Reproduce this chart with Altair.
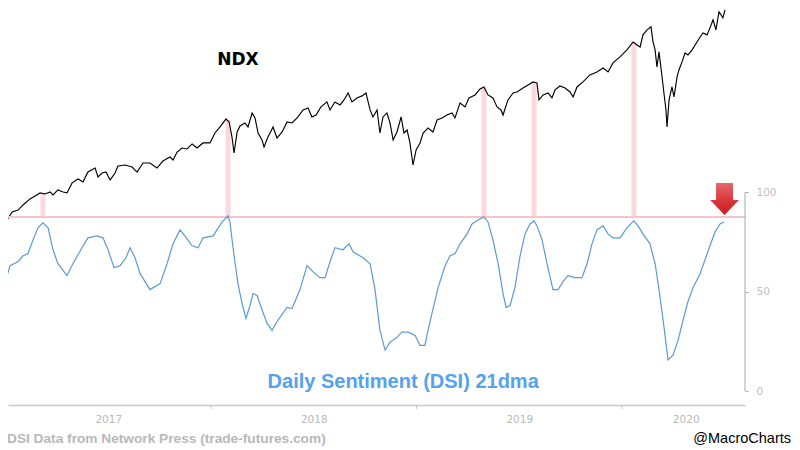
import altair as alt
import pandas as pd

# ---------------- data (time in fractional years) ----------------
ndx_t = [2017.007, 2017.032, 2017.061, 2017.085, 2017.119, 2017.144, 2017.168, 2017.192, 2017.217, 2017.231,
         2017.255, 2017.280, 2017.299, 2017.324, 2017.353, 2017.377, 2017.401, 2017.436, 2017.450, 2017.470,
         2017.489, 2017.509, 2017.533, 2017.547, 2017.582, 2017.616, 2017.640, 2017.669, 2017.703, 2017.737,
         2017.766, 2017.800, 2017.815, 2017.835, 2017.859, 2017.883, 2017.908, 2017.932, 2017.961, 2017.995,
         2018.019, 2018.044, 2018.073, 2018.088, 2018.102, 2018.112, 2018.127, 2018.141, 2018.165, 2018.180,
         2018.200, 2018.214, 2018.229, 2018.248, 2018.258, 2018.277, 2018.302, 2018.321, 2018.346, 2018.370,
         2018.394, 2018.419, 2018.448, 2018.472, 2018.491, 2018.511, 2018.535, 2018.564, 2018.579, 2018.603,
         2018.628, 2018.647, 2018.667, 2018.686, 2018.710, 2018.735, 2018.754, 2018.774, 2018.788, 2018.808,
         2018.822, 2018.837, 2018.856, 2018.871, 2018.886, 2018.905, 2018.925, 2018.939, 2018.954, 2018.968,
         2018.983, 2018.998,
         2019.017, 2019.032, 2019.056, 2019.080, 2019.100, 2019.124, 2019.148, 2019.173, 2019.187, 2019.212,
         2019.236, 2019.255, 2019.285, 2019.309, 2019.328, 2019.348, 2019.372, 2019.392, 2019.411, 2019.421,
         2019.445, 2019.470, 2019.489, 2019.518, 2019.543, 2019.567, 2019.586, 2019.596, 2019.616, 2019.640,
         2019.659, 2019.674, 2019.698, 2019.723, 2019.747, 2019.762, 2019.781, 2019.810, 2019.844, 2019.878,
         2019.908, 2019.932, 2019.956, 2019.990,
         2020.024, 2020.054, 2020.073, 2020.088, 2020.102, 2020.122, 2020.141, 2020.151, 2020.161, 2020.170,
         2020.180, 2020.195, 2020.204, 2020.214, 2020.219, 2020.229, 2020.243, 2020.253, 2020.268, 2020.277,
         2020.292, 2020.307, 2020.321, 2020.341, 2020.365, 2020.380, 2020.394, 2020.414, 2020.428, 2020.443,
         2020.457, 2020.472, 2020.491, 2020.501]
ndx_v = [4935, 5084, 5122, 5220, 5339, 5399, 5460, 5439, 5480, 5419,
         5522, 5480, 5460, 5669, 5753, 5690, 5903, 5992, 5796, 5881,
         5903, 5732, 5881, 6037, 6060, 6015, 5903, 6105, 6105, 5992,
         6151, 6243, 6174, 6361, 6457, 6433, 6555, 6457, 6580, 6580,
         6829, 6985, 7196, 7116, 6727, 6337, 6855, 7011, 7090, 6985,
         7359, 7223, 6829, 6655, 6482, 6727, 6985, 6702, 6855, 7116,
         7090, 7223, 7443, 7499, 7250, 7304, 7527, 7669, 7443, 7669,
         7584, 7726, 7930, 7669, 7784, 7843, 7930, 7443, 7250, 7443,
         6829, 7250, 7359, 7090, 6655, 6855, 7250, 6829, 6906, 6580,
         6060, 6409,
         6580, 6829, 6959, 6855, 7170, 7223, 7304, 7359, 7223, 7640,
         7527, 7784, 7872, 8050, 8110, 7872, 7784, 7527, 7443, 7304,
         7726, 7930, 7960, 8080, 8171, 8263, 8232, 7726, 7872, 7930,
         7784, 8020, 8140, 8080, 7960, 7813, 8110, 8263, 8481, 8577,
         8706, 8577, 8872, 9072,
         9312, 9593, 9486, 9415, 9850, 10036, 10149, 9593, 9312, 8738,
         9243, 8418, 7930, 7443, 6985, 7726, 8110, 7813, 8418, 8641,
         8905, 9208, 9139, 9312, 9593, 9773, 9923, 9850, 10111, 10418,
         10036, 10738, 10496, 10816]

dsi_t = [2017.007, 2017.022, 2017.061, 2017.085, 2017.109, 2017.134, 2017.158, 2017.182, 2017.207, 2017.231,
         2017.255, 2017.299, 2017.328, 2017.372, 2017.401, 2017.445, 2017.474, 2017.499, 2017.528, 2017.557,
         2017.586, 2017.606, 2017.630, 2017.655, 2017.703, 2017.752, 2017.786, 2017.815, 2017.849, 2017.873,
         2017.908, 2017.937, 2017.961,
         2018.010, 2018.029, 2018.054, 2018.083, 2018.092, 2018.107, 2018.131, 2018.151, 2018.170, 2018.190,
         2018.204, 2018.224, 2018.248, 2018.273, 2018.297, 2018.326, 2018.370, 2018.394, 2018.433, 2018.467,
         2018.496, 2018.530, 2018.555, 2018.579, 2018.603, 2018.642, 2018.672, 2018.691, 2018.740, 2018.774,
         2018.798, 2018.822, 2018.847, 2018.871, 2018.905, 2018.929, 2018.959, 2018.993,
         2019.017, 2019.041, 2019.056, 2019.075, 2019.105, 2019.139, 2019.163, 2019.187, 2019.212, 2019.246,
         2019.270, 2019.299, 2019.328, 2019.348, 2019.372, 2019.397, 2019.421, 2019.436, 2019.455, 2019.479,
         2019.504, 2019.528, 2019.552, 2019.572, 2019.586, 2019.611, 2019.635, 2019.664, 2019.689, 2019.713,
         2019.737, 2019.771, 2019.805, 2019.830, 2019.854, 2019.878, 2019.908, 2019.932, 2019.956, 2019.990,
         2020.024, 2020.058, 2020.078, 2020.102, 2020.136, 2020.161, 2020.180, 2020.200, 2020.214, 2020.224,
         2020.248, 2020.273, 2020.297, 2020.321, 2020.346, 2020.380, 2020.404, 2020.428, 2020.453, 2020.477,
         2020.496]
dsi_v = [57.8, 63, 65, 68, 69, 76, 82, 84.5, 82, 71,
         64, 58, 64, 72, 77, 78, 77, 71, 62, 63,
         67, 72, 67, 59, 51, 54, 64, 74, 81, 78,
         73, 72, 77,
         78, 81, 85, 88, 85, 72, 54, 44, 36.5, 43,
         49, 48, 41, 34, 30.5, 35.7, 42, 41.5, 51, 63,
         60, 57, 57, 65, 72, 71, 74, 70, 67, 64,
         51, 30.5, 20.6, 24.6, 27, 29.6, 29.6, 28,
         23, 23, 30.5, 39, 52, 63, 68, 69, 74, 79,
         84, 86, 87.5, 85, 76, 64, 49, 42, 43, 52,
         68, 79, 84, 85.5, 83, 76, 64, 51, 51, 55,
         58, 57, 57, 64, 74, 81, 83, 79, 77, 77,
         82, 85.5, 83, 79, 74, 64, 51, 35.7, 24, 15.6,
         18, 25.6, 35.7, 45, 52, 59, 66, 73, 80, 84,
         85]

# sentiment peaks highlighted
band_t = [2017.182, 2018.083, 2019.328, 2019.572, 2020.058]
band_ndx = [5460, 7170, 8110, 8232, 9593]
threshold = 87.5

year_bounds = [2018, 2019, 2020]
year_label_pos = [2017.5, 2018.5, 2019.5, 2020.31]
dsi_ticks = [0, 50, 100]
dsi_axis_span = [0, 100]

arrow_t = [2020.499]
arrow_v = [96.5]

ndx_label = ["NDX"]
ndx_label_t = [2018.131]
ndx_label_v = [8969]
dsi_label = ["Daily Sentiment (DSI) 21dma"]
dsi_label_t = [2018.935]
dsi_label_v = [4.5]
source_text = "DSI Data from Network Press (trade-futures.com)"
handle_text = "@MacroCharts"

# ---------------- layout ----------------
W, H = 737, 397
PAD_R, PAD_B = 47, 45          # svg = 784 x 442
X_DOMAIN = [2017.012, 2020.5985]
NDX_DOMAIN = [2474, 10889]
DSI_DOMAIN = [-7.0, 192.5]
thr_px = H * (DSI_DOMAIN[1] - threshold) / (DSI_DOMAIN[1] - DSI_DOMAIN[0])

x_scale = alt.Scale(domain=X_DOMAIN, nice=False, zero=False)
x_axis = alt.Axis(values=year_label_pos, labelExpr="toString(floor(datum.value))",
                  ticks=False, tickSize=0, grid=False, domainColor="#c9c9c9", domainWidth=1.5,
                  labelColor="#b9b9b9", labelFont="DejaVu Sans", labelFontSize=10.5,
                  labelPadding=9, title=None)
ndx_scale = alt.Scale(type="log", domain=NDX_DOMAIN, nice=False, zero=False)
dsi_scale = alt.Scale(domain=DSI_DOMAIN, nice=False, zero=False)
dsi_axis = alt.Axis(orient="right", values=dsi_ticks, domain=False, grid=False, ticks=True,
                    tickSize=3, tickColor="#a9a9a9", labelColor="#c0c0c0",
                    labelFont="DejaVu Sans", labelFontSize=10.5, labelPadding=8, title=None)


def X(field="t"):
    return alt.X(f"{field}:Q", scale=x_scale, axis=x_axis)


def YN(field="v"):
    return alt.Y(f"{field}:Q", scale=ndx_scale, axis=None)


def YD(field="v"):
    return alt.Y(f"{field}:Q", scale=dsi_scale, axis=dsi_axis)


ndx_df = pd.DataFrame({"t": ndx_t, "v": ndx_v})
dsi_df = pd.DataFrame({"t": dsi_t, "v": dsi_v})
band_df = pd.DataFrame({"t": band_t, "v": band_ndx})

bands = alt.Chart(band_df).mark_rule(color="#fbd9dd", strokeWidth=5).encode(
    x=X(), y=YN(), y2=alt.value(thr_px))
ndx_line = alt.Chart(ndx_df).mark_line(color="#000000", strokeWidth=1.15).encode(x=X(), y=YN())
ndx_text = alt.Chart(pd.DataFrame({"t": ndx_label_t, "v": ndx_label_v, "s": ndx_label})).mark_text(
    font="DejaVu Sans", fontSize=17, fontWeight="bold", color="#000000").encode(
    x=X(), y=YN(), text="s:N")

ndx_layer = alt.layer(bands, ndx_line, ndx_text)

hline = alt.Chart(pd.DataFrame({"v": [threshold]})).mark_rule(color="#f6c4c9", strokeWidth=2).encode(y=YD())
dsi_line = alt.Chart(dsi_df).mark_line(color="#5b9bd5", strokeWidth=1.2).encode(x=X(), y=YD())
axis_rule = alt.Chart(pd.DataFrame({"lo": [dsi_axis_span[0]], "hi": [dsi_axis_span[1]]})).mark_rule(
    color="#a9a9a9", strokeWidth=1).encode(x=alt.value(W), y=YD("lo"), y2="hi:Q")
year_ticks = alt.Chart(pd.DataFrame({"t": year_bounds})).mark_rule(color="#c9c9c9", strokeWidth=1).encode(
    x=X(), y=alt.value(H), y2=alt.value(H + 4))
dsi_text = alt.Chart(pd.DataFrame({"t": dsi_label_t, "v": dsi_label_v, "s": dsi_label})).mark_text(
    font="Liberation Sans", fontSize=20, fontWeight="bold", color="#55a2ee").encode(
    x=X(), y=YD(), text="s:N")

ARROW = "M-0.53,-1 L0.53,-1 L0.53,0.06 L0.9,0.06 L0,1 L-0.9,0.06 L-0.53,0.06 Z"
arrow = alt.Chart(pd.DataFrame({"t": arrow_t, "v": arrow_v})).mark_point(
    shape=ARROW, size=1024, filled=True, opacity=1, strokeWidth=0,
    fill=alt.LinearGradient(gradient="linear", x1=0, y1=0, x2=0, y2=1,
                            stops=[alt.GradientStop(color="#e2696d", offset=0),
                                   alt.GradientStop(color="#dc3a3e", offset=0.5),
                                   alt.GradientStop(color="#c81c1c", offset=1)])).encode(
    x=X(), y=YD())

source = alt.Chart(pd.DataFrame({"s": [source_text]})).mark_text(
    font="Liberation Sans", fontSize=13.7, fontWeight="bold", color="#b8b8b8",
    align="left", baseline="alphabetic").encode(x=alt.value(-1), y=alt.value(H + 38), text="s:N")
handle = alt.Chart(pd.DataFrame({"s": [handle_text]})).mark_text(
    font="Liberation Sans", fontSize=14.5, color="#000000",
    align="right", baseline="alphabetic").encode(x=alt.value(W + PAD_R - 1), y=alt.value(H + 38), text="s:N")

dsi_layer = alt.layer(hline, dsi_line, axis_rule, year_ticks, dsi_text, arrow, source, handle)

chart = alt.layer(ndx_layer, dsi_layer).resolve_scale(y="independent").properties(
    width=W, height=H,
    autosize=alt.AutoSizeParams(type="none"),
    padding={"left": 0, "top": 0, "right": PAD_R, "bottom": PAD_B},
    background="#ffffff",
).configure_view(stroke=None)

chart.save("out.html", embed_options={"renderer": "svg", "actions": False})
